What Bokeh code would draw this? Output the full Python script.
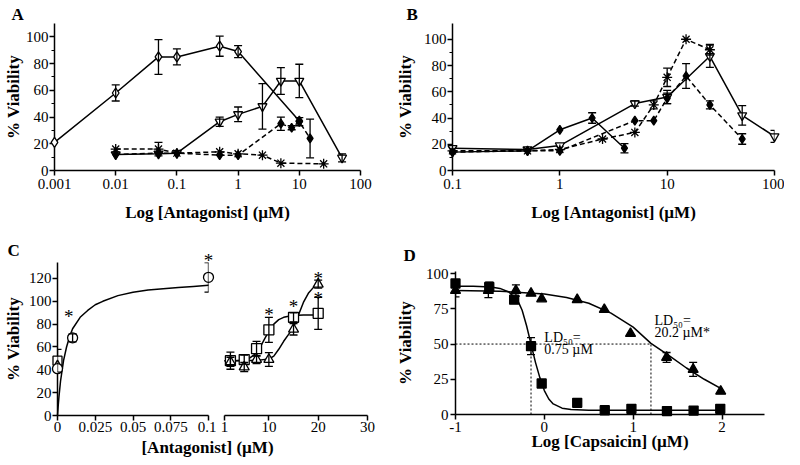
from bokeh.plotting import figure
from bokeh.models import ColumnDataSource, Whisker, TeeHead, FixedTicker, Label, Range1d
from bokeh.layouts import row, column
from bokeh.embed import file_html
from bokeh.resources import INLINE
from bokeh.core.properties import value

FONT = "Liberation Serif"

# ---------------- Panel A data ----------------
a_xticks = [0.001, 0.01, 0.1, 1, 10, 100]
a_xtick_labels = ["0.001", "0.01", "0.1", "1", "10", "100"]
a_yticks = [0, 20, 40, 60, 80, 100]
a_ytick_labels = ["0", "20", "40", "60", "80", "100"]
a_yminor = [10, 30, 50, 70, 90]

a_odia_x = [0.001, 0.01, 0.05, 0.1, 0.5, 1, 10]
a_odia_y = [21, 58, 85, 85, 93, 89, 37]
a_odia_e = [0, 6, 13, 6, 7.5, 4.5, 0]

a_tri_x = [0.01, 0.05, 0.1, 0.5, 1, 2.5, 5, 10, 50]
a_tri_y = [12, 12.5, 13, 36.5, 42, 48, 67, 67, 9.5]
a_tri_e = [0, 0, 0, 3.5, 5.5, 17, 10, 12.5, 3]

a_ast_x = [0.01, 0.05, 0.1, 0.5, 1, 2.5, 5, 25]
a_ast_y = [16, 16, 13, 14, 12.5, 11.5, 5.5, 5]
a_ast_e = [0, 5, 0, 0, 0, 0, 0, 0]

a_fdia_x = [0.01, 0.05, 0.1, 0.5, 1, 5, 7.5, 10, 15]
a_fdia_y = [12, 13, 13, 11.5, 11.5, 35, 32, 36.5, 24]
a_fdia_e = [0, 0, 0, 0, 0, 5, 1.5, 3, 14.5]

# ---------------- Panel B data ----------------
b_xticks = [0.1, 1, 10, 100]
b_xtick_labels = ["0.1", "1", "10", "100"]

b_fdia_s_x = [0.1, 0.5, 1, 2, 4]
b_fdia_s_y = [14, 15, 31, 40, 17]
b_fdia_s_e = [0, 0, 0, 4, 3.5]

b_tri_x = [0.1, 0.5, 1, 5, 10, 25, 50, 100]
b_tri_y = [17, 16, 19, 51, 56, 87, 42, 26]
b_tri_e = [0, 0, 0, 2, 5, 8.5, 7.5, 4.5]

b_ast_x = [0.1, 0.5, 1, 2.5, 5, 7.5, 10, 15, 25]
b_ast_y = [15, 15, 16, 24, 29, 50, 71, 100, 92]
b_ast_e = [0, 0, 0, 0, 0, 3, 7, 0, 4]

b_fdia_d_x = [0.1, 0.5, 1, 5, 7.5, 10, 15, 25, 50]
b_fdia_d_y = [14, 15, 15, 38, 38, 55, 72, 50, 24]
b_fdia_d_e = [0, 0, 0, 0, 0, 4, 9.5, 3, 4]

# ---------------- Panel C data ----------------
c1_xticks = [0, 0.025, 0.05, 0.075, 0.1]
c1_xtick_labels = ["0", "0.025", "0.05", "0.075", "0.1"]
c_yticks = [0, 20, 40, 60, 80, 100, 120]
c_ytick_labels = ["0", "20", "40", "60", "80", "100", "120"]

c1_circ_x = [0, 0.01, 0.1]
c1_circ_y = [41, 68, 121]
c1_circ_e = [0, 3.5, 13]
c1_sq_x = [0]
c1_sq_y = [48]
c1_sq_e = [10]
c1_tri_x = [0]
c1_tri_y = [44]
c1_tri_e = [0]
c1_fit_x = [0, 0.0005, 0.001, 0.002, 0.004, 0.006, 0.008, 0.01, 0.015, 0.02,
            0.025, 0.03, 0.04, 0.05, 0.06, 0.07, 0.08, 0.09, 0.1]
c1_fit_y = [0, 9, 17, 30, 48, 60, 69, 76, 86, 92, 97, 100, 105, 108, 110, 111, 112, 113, 114]
c1_star_x = [0.0075, 0.1]
c1_star_y = [91, 140]

c2_xticks = [1, 10, 20, 30]
c2_xtick_labels = ["1", "10", "20", "30"]
c2_x = [2.2, 5, 7.5, 10, 15, 20]
c2_sq_y = [48, 49, 58.5, 75, 86, 89.5]
c2_sq_e = [7.5, 4, 6.5, 11, 4, 14]
c2_tri_y = [47, 42.5, 49, 49, 75.5, 115]
c2_tri_e = [4, 4, 3.5, 6, 5, 3.5]
c2_sq_fit_x = [1, 3, 5, 6, 7, 8, 9, 10, 11, 12, 13, 14, 15, 17, 20]
c2_sq_fit_y = [48, 48, 48.5, 50, 53, 58, 66, 74, 80, 84, 86, 87, 87.5, 88, 88]
c2_tri_fit_x = [1, 5, 8, 10, 11, 12, 13, 14, 15, 16, 17, 18, 19, 20]
c2_tri_fit_y = [48, 48, 48.5, 49.5, 52, 58, 65, 71, 77, 88, 99, 107, 112, 115]
c2_star_x = [10, 15, 20, 20]
c2_star_y = [93, 100, 124, 107]

# ---------------- Panel D data ----------------
d_xticks = [-1, 0, 1, 2]
d_xtick_labels = ["-1", "0", "1", "2"]
d_yticks = [0, 25, 50, 75, 100]
d_ytick_labels = ["0", "25", "50", "75", "100"]

d_sq_x = [-1, -0.62, -0.34, -0.15, -0.03, 0.37, 0.68, 0.98, 1.38, 1.68, 1.98]
d_sq_y = [93, 90.5, 81.5, 48.5, 22, 8.3, 3, 4, 2.4, 2.8, 4]
d_sq_e = [0, 3.5, 0, 6, 0, 0, 0, 0, 0, 0, 0]
d_tri_x = [-1, -0.63, -0.32, -0.15, -0.03, 0.37, 0.675, 0.97, 1.376, 1.675, 1.985]
d_tri_y = [88, 88, 88, 86, 82, 81.5, 74.5, 57.5, 40.5, 32, 16.5]
d_tri_e = [4.5, 5, 4, 0, 0, 0, 0, 0, 3.5, 5, 0]
d_sq_fit_x = [-1, -0.8, -0.6, -0.5, -0.4, -0.3, -0.25, -0.2, -0.15, -0.1, -0.05, 0,
              0.05, 0.1, 0.2, 0.3, 0.5, 1, 2]
d_sq_fit_y = [91, 91, 90.5, 89.5, 87, 81, 74, 63, 50, 37, 26, 17, 11, 7.5, 4.5, 3.5, 3, 3, 3]
d_tri_fit_x = [-1, -0.5, 0, 0.25, 0.5, 0.75, 1, 1.2, 1.4, 1.6, 1.8, 2]
d_tri_fit_y = [88, 87.5, 85.5, 83, 79, 72, 62, 50.5, 42, 33, 25, 18]
d_ld50_log = [-0.15, 1.2]
d_ld50_level = 50
d_ld50_texts = [("LD\u2085\u2080=", "0.75 \u00b5M"), ("LD\u2085\u2080=", "20.2 \u00b5M*")]


# ---------------- helpers ----------------
def make_fig(w, h, xr, yr, xtype, left, right, top, bottom, yaxis=True, xaxis=True):
    p = figure(width=w, height=h, x_range=xr, y_range=yr, x_axis_type=xtype,
               output_backend="svg", toolbar_location=None,
               min_border_left=left, min_border_right=right,
               min_border_top=top, min_border_bottom=bottom,
               y_axis_location="left" if yaxis else None,
               x_axis_location="below" if xaxis else None)
    p.grid.visible = False
    p.outline_line_color = None
    p.background_fill_color = "white"
    p.border_fill_color = "white"
    return p


def style_axis(ax, ticks, labels, minor=None, title="", label_standoff=2, title_standoff=4):
    ax.ticker = FixedTicker(ticks=ticks, minor_ticks=minor or [])
    ax.major_label_overrides = {t: l for t, l in zip(ticks, labels)}
    ax.axis_line_color = "black"
    ax.axis_line_width = 1.5
    ax.major_tick_line_color = "black"
    ax.major_tick_line_width = 1.5
    ax.major_tick_out = 5
    ax.major_tick_in = 0
    ax.minor_tick_line_color = "black"
    ax.minor_tick_line_width = 1.2
    ax.minor_tick_out = 3
    ax.minor_tick_in = 0
    ax.major_label_text_font = FONT
    ax.major_label_text_font_size = "15px"
    ax.major_label_text_color = "black"
    ax.major_label_standoff = label_standoff
    ax.axis_label = title
    ax.axis_label_text_font = FONT
    ax.axis_label_text_font_style = "bold"
    ax.axis_label_text_font_size = "17px"
    ax.axis_label_text_color = "black"
    ax.axis_label_standoff = title_standoff


def series(p, x, y, e, marker, fill, dash=None, size=9, line=True):
    if line:
        p.line(x, y, line_color="black", line_width=1.5, line_dash=dash or "solid", level="overlay")
    bx = [xi for xi, ei in zip(x, e) if ei > 0]
    if bx:
        src = ColumnDataSource(dict(
            base=bx,
            upper=[yi + ei for yi, ei in zip(y, e) if ei > 0],
            lower=[yi - ei for yi, ei in zip(y, e) if ei > 0]))
        w = Whisker(source=src, base="base", upper="upper", lower="lower",
                    line_color="black", line_width=1.3, level="overlay",
                    upper_head=TeeHead(size=8, line_color="black", line_width=1.3),
                    lower_head=TeeHead(size=8, line_color="black", line_width=1.3))
        p.add_layout(w)
    p.scatter(x, y, marker=marker, size=size, fill_color=fill, line_color="black",
              line_width=1.3, level="overlay")


def panel_letter(p, text, dx, standoff):
    # panel letter as the figure title, left aligned and shifted left of the frame
    p.title.text = text
    p.title.align = "left"
    p.title.offset = dx
    p.title.standoff = standoff
    p.title.text_font = FONT
    p.title.text_font_style = "bold"
    p.title.text_font_size = "17px"
    p.title.text_color = "black"


def stars(p, xs, ys):
    p.text(x=xs, y=ys, text=["*"] * len(xs), text_font=value(FONT), text_font_size="19px",
           text_align="center", text_baseline="middle", y_offset=5, text_color="black",
           level="overlay")


# ---------------- Panel A ----------------
a_xr = Range1d(0.001, 100)
a_yr = Range1d(0, 110)
pA = make_fig(392, 230, a_xr, a_yr, "log", 45, 32, 23, 60)
style_axis(pA.xaxis[0], a_xticks, a_xtick_labels, title="Log [Antagonist] (\u00b5M)",
           label_standoff=3, title_standoff=11)
style_axis(pA.yaxis[0], a_yticks, a_ytick_labels, minor=a_yminor, title="% Viability",
           label_standoff=1, title_standoff=0)
series(pA, a_odia_x, a_odia_y, a_odia_e, "diamond", "white", size=10)
series(pA, a_tri_x, a_tri_y, a_tri_e, "inverted_triangle", "white", size=9)
series(pA, a_ast_x, a_ast_y, a_ast_e, "asterisk", "white", dash="5 3", size=10)
series(pA, a_fdia_x, a_fdia_y, a_fdia_e, "diamond", "black", dash="5 3", size=9)
panel_letter(pA, "A", -43, 0)

# ---------------- Panel B ----------------
b_xr = Range1d(0.1, 100)
b_yr = Range1d(0, 112)
pB = make_fig(392, 230, b_xr, b_yr, "log", 54, 10, 20, 60)
style_axis(pB.xaxis[0], b_xticks, b_xtick_labels, title="Log [Antagonist] (\u00b5M)",
           label_standoff=3, title_standoff=11)
style_axis(pB.yaxis[0], a_yticks, a_ytick_labels, minor=a_yminor, title="% Viability",
           label_standoff=1, title_standoff=6)
series(pB, b_fdia_s_x, b_fdia_s_y, b_fdia_s_e, "diamond", "black", size=9)
series(pB, b_tri_x, b_tri_y, b_tri_e, "inverted_triangle", "white", size=9)
series(pB, b_ast_x, b_ast_y, b_ast_e, "asterisk", "white", dash="5 3", size=10)
series(pB, b_fdia_d_x, b_fdia_d_y, b_fdia_d_e, "diamond", "black", dash="5 3", size=9)
panel_letter(pB, "B", -46, 0)

# ---------------- Panel C ----------------
c1_xr = Range1d(0, 0.1)
c_yr = Range1d(0, 134)
pC1 = make_fig(216, 207, c1_xr, c_yr, "linear", 51, 8, 32, 22)
style_axis(pC1.xaxis[0], c1_xticks, c1_xtick_labels, label_standoff=1)
style_axis(pC1.yaxis[0], c_yticks, c_ytick_labels, title="% Viability", label_standoff=1, title_standoff=3)
pC1.line(c1_fit_x, c1_fit_y, line_color="black", line_width=1.5, level="overlay")
series(pC1, c1_sq_x, c1_sq_y, c1_sq_e, "square", "white", size=9, line=False)
series(pC1, c1_tri_x, c1_tri_y, c1_tri_e, "triangle", "white", size=9, line=False)
series(pC1, c1_circ_x, c1_circ_y, c1_circ_e, "circle", "white", size=10, line=False)
stars(pC1, c1_star_x, c1_star_y)
panel_letter(pC1, "C", -50, 6)

pC2 = make_fig(176, 207, Range1d(1, 30), Range1d(0, 134), "linear", 8, 25, 32, 22, yaxis=False)
style_axis(pC2.xaxis[0], c2_xticks, c2_xtick_labels, label_standoff=1)
pC2.line(c2_sq_fit_x, c2_sq_fit_y, line_color="black", line_width=1.5, level="overlay")
pC2.line(c2_tri_fit_x, c2_tri_fit_y, line_color="black", line_width=1.5, level="overlay")
series(pC2, c2_x, c2_sq_y, c2_sq_e, "square", "white", size=10, line=False)
series(pC2, c2_x, c2_tri_y, c2_tri_e, "triangle", "white", size=10, line=False)
stars(pC2, c2_star_x, c2_star_y)

pCt = make_fig(392, 20, Range1d(0, 392), Range1d(0, 20), "linear", 0, 0, 0, 0, yaxis=False, xaxis=False)
pCt.add_layout(Label(x=207, y=10, text="[Antagonist] (\u00b5M)", text_font=FONT,
                     text_font_style="bold", text_font_size="17px", text_align="center",
                     text_baseline="middle", text_color="black"))

# ---------------- Panel D ----------------
d_xr = Range1d(-1, 2.478)
d_yr = Range1d(0, 101.5)
pD = make_fig(392, 227, d_xr, d_yr, "linear", 59, 20, 41, 43)
style_axis(pD.xaxis[0], d_xticks, d_xtick_labels, title="Log [Capsaicin] (\u00b5M)",
           label_standoff=2, title_standoff=-3)
style_axis(pD.yaxis[0], d_yticks, d_ytick_labels, title="% Viability", label_standoff=2, title_standoff=8)
pD.line([d_xr.start, max(d_ld50_log)], [d_ld50_level, d_ld50_level], line_color="black",
        line_width=1, line_dash="2 2")
pD.segment(x0=d_ld50_log, y0=[0] * len(d_ld50_log), x1=d_ld50_log,
           y1=[d_ld50_level] * len(d_ld50_log), line_color="black", line_width=1, line_dash="2 2")
pD.line(d_sq_fit_x, d_sq_fit_y, line_color="black", line_width=1.5, level="overlay")
pD.line(d_tri_fit_x, d_tri_fit_y, line_color="black", line_width=1.5, level="overlay")
series(pD, d_sq_x, d_sq_y, d_sq_e, "square", "black", size=9, line=False)
series(pD, d_tri_x, d_tri_y, d_tri_e, "triangle", "black", size=10, line=False)
for (t1, t2), lx, ly in zip(d_ld50_texts, [0.0, 1.24], [55, 67]):
    pD.add_layout(Label(x=lx, y=ly, text=t1, text_font=FONT, text_font_size="14px",
                        text_baseline="middle", text_color="black"))
    pD.add_layout(Label(x=lx, y=ly - 9, text=t2, text_font=FONT, text_font_size="14px",
                        text_baseline="middle", text_color="black"))
panel_letter(pD, "D", -52, 14)

layout = column(row(pA, pB), row(column(row(pC1, pC2), pCt), pD))

with open("out.html", "w") as f:
    f.write(file_html(layout, INLINE))
